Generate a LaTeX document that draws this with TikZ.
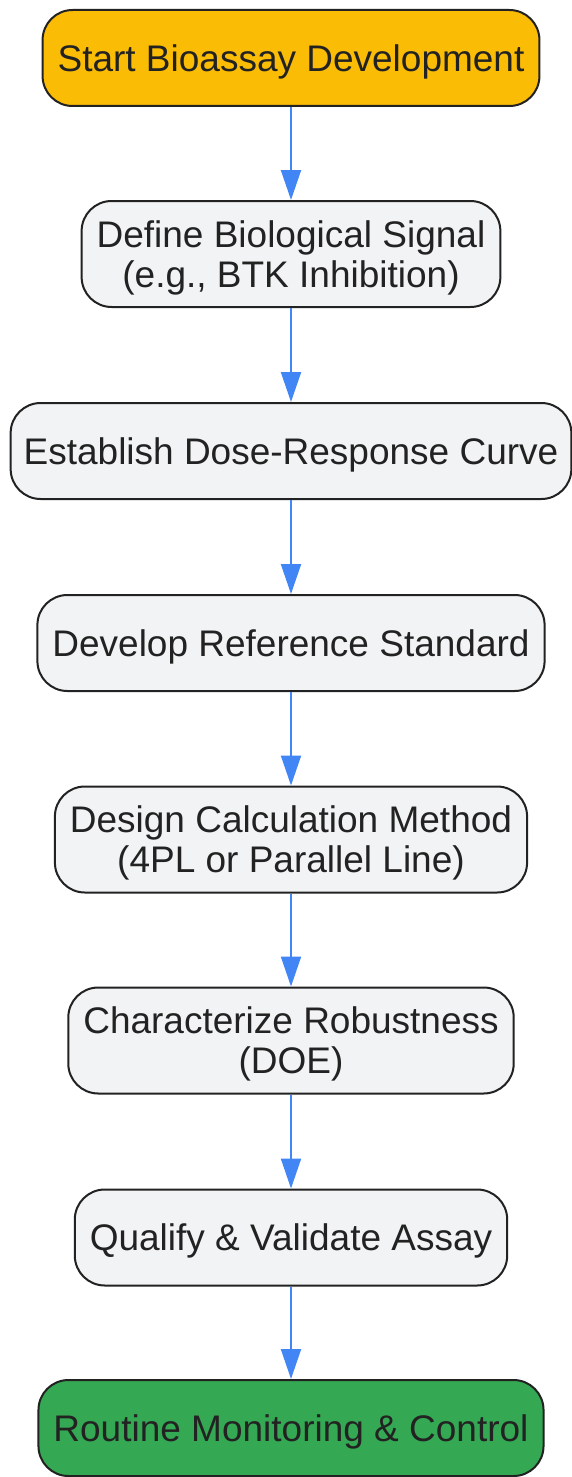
\documentclass[tikz,border=0pt]{standalone}
\usepackage{fontspec}
\setmainfont{Liberation Sans}
\usepackage{tikz}
\usetikzlibrary{arrows.meta, positioning}
\definecolor{startcol}{HTML}{FBBC05}
\definecolor{endcol}{HTML}{34A853}
\definecolor{stepcol}{HTML}{F1F3F4}
\definecolor{linkcol}{HTML}{4285F4}
\definecolor{inkcol}{HTML}{222222}

\begin{document}
\begin{tikzpicture}[
		x=1pt, y=-1pt,
		box/.style={rectangle, rounded corners=30pt, draw=inkcol, line width=2pt, fill=stepcol, text=inkcol, font=\fontsize{37}{40}\selectfont, align=center, inner xsep=15pt, inner ysep=6pt, text depth=0pt, minimum height=96pt},
		twoline/.style={box, minimum height=106pt},
		startbox/.style={box, fill=startcol},
		endbox/.style={box, fill=endcol},
		link/.style={-{Triangle[length=30pt, width=20pt]}, draw=linkcol, line width=2pt}
		]
	
		\useasboundingbox (0,0) rectangle (571,1477);
	
		% --- Etapes ---
		\node[startbox] (start) at (291, 58) {Start Bioassay Development};
		\node[twoline] (signal) at (291, 254) {Define Biological Signal\\(e.g., BTK Inhibition)};
		\node[box, inner xsep=13pt] (curve) at (291, 451) {Establish Dose-Response Curve};
		\node[box] (refstd) at (291, 643) {Develop Reference Standard};
		\node[twoline] (calc) at (291, 839.5) {Design Calculation Method\\(4PL or Parallel Line)};
		\node[twoline] (robust) at (291, 1040.5) {Characterize Robustness\\(DOE)};
		\node[box] (valid) at (291, 1237.5) {Qualify \& Validate Assay};
		\node[endbox] (routine) at (291, 1428) {Routine Monitoring \& Control};
	
		% Fleches
		\draw[link] (start) -- (signal);
		\draw[link] (signal) -- (curve);
		\draw[link] (curve) -- (refstd);
		\draw[link] (refstd) -- (calc);
		\draw[link] (calc) -- (robust);
		\draw[link] (robust) -- (valid);
		\draw[link] (valid) -- (routine);
	
	\end{tikzpicture}
\end{document}
